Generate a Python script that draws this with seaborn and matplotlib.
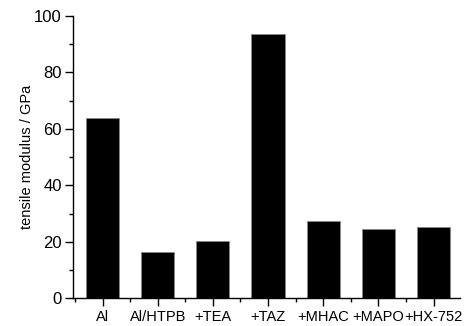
import matplotlib
matplotlib.use("Agg")
import matplotlib.pyplot as plt
import seaborn as sns
import pandas as pd
from matplotlib.ticker import MultipleLocator, FixedLocator
from matplotlib import font_manager

categories = ["Al", "Al/HTPB", "+TEA", "+TAZ", "+MHAC", "+MAPO", "+HX-752"]
modulus = [64.0, 16.4, 20.2, 93.5, 27.4, 24.5, 25.2]

sns.set_style("ticks")
names = {f.name for f in font_manager.fontManager.ttflist}
fam = "Liberation Sans Narrow" if "Liberation Sans Narrow" in names else "Liberation Sans"
plt.rcParams["font.family"] = [fam, "DejaVu Sans"]
plt.rcParams["text.color"] = "black"
plt.rcParams["axes.labelcolor"] = "black"
plt.rcParams["xtick.labelcolor"] = "black"
plt.rcParams["ytick.labelcolor"] = "black"

df = pd.DataFrame({"cat": categories, "val": modulus})

fig = plt.figure(figsize=(4.76, 3.26), dpi=100)
ax = fig.add_axes([0.1534, 0.0844, 0.8130, 0.8666])
sns.barplot(data=df, x="cat", y="val", color="black", width=0.6,
            edgecolor="#888888", linewidth=0.6, saturation=1, ax=ax)

ax.set_xlim(-0.535, 6.48)
ax.set_ylim(0, 100)
ax.yaxis.set_major_locator(MultipleLocator(20))
ax.yaxis.set_minor_locator(MultipleLocator(10))
ax.xaxis.set_minor_locator(FixedLocator([i + 0.5 for i in range(-1, 7)]))
ax.tick_params(axis="both", which="major", length=6, width=1, color="black",
               labelcolor="black", pad=2)
ax.tick_params(axis="y", which="major", labelsize=12)
ax.tick_params(axis="x", which="major", labelsize=10.5)
ax.tick_params(axis="both", which="minor", length=3, width=1, color="black")
ax.set_xlabel("")
ax.set_ylabel("tensile modulus / GPa", fontsize=10.5, labelpad=0, color="black")
sns.despine(ax=ax)
for s in ["left", "bottom"]:
    ax.spines[s].set_linewidth(1)
    ax.spines[s].set_color("black")

fig.savefig("out.png", dpi=100)
